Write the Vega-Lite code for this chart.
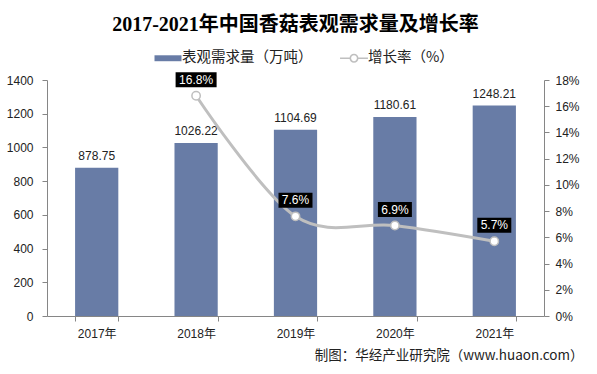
{
  "$schema": "https://vega.github.io/schema/vega-lite/v6.json",
  "width": 497,
  "height": 236,
  "autosize": {"type": "none"},
  "padding": {"left": 47, "top": 80, "right": 53, "bottom": 58},
  "background": "white",
  "title": {
    "text": "2017-2021年中国香菇表观需求量及增长率",
    "font": "Liberation Serif, Noto Sans CJK SC",
    "fontSize": 20,
    "fontWeight": "bold",
    "color": "#000000",
    "anchor": "middle",
    "frame": "group",
    "offset": 14
  },
  "data": {
    "values": [
      {"year": "2017年", "demand": 878.75, "growth": null},
      {"year": "2018年", "demand": 1026.22, "growth": 0.168},
      {"year": "2019年", "demand": 1104.69, "growth": 0.076},
      {"year": "2020年", "demand": 1180.61, "growth": 0.069},
      {"year": "2021年", "demand": 1248.21, "growth": 0.057}
    ]
  },
  "layer": [
    {
      "encoding": {
        "x": {
          "field": "year",
          "type": "nominal",
          "sort": null,
          "scale": {"paddingInner": 0.565, "paddingOuter": 0.2825},
          "axis": {
            "title": "制图：华经产业研究院（www.huaon.com）",
            "titleFont": "Noto Sans CJK SC",
            "titleFontSize": 13.5,
            "titleFontWeight": "normal",
            "titleColor": "#222222",
            "titleAlign": "right",
            "titleAnchor": "end",
            "titleX": 536,
            "titleY": 39,
            "titleBaseline": "middle",
            "labelAngle": 0,
            "labelFontSize": 12,
            "labelPadding": 7,
            "tickBand": "extent",
            "tickSize": 5
          }
        },
        "y": {
          "field": "demand",
          "type": "quantitative",
          "scale": {"domain": [0, 1400], "nice": false},
          "axis": {
            "title": null,
            "values": [0, 200, 400, 600, 800, 1000, 1200, 1400],
            "format": "d",
            "grid": false,
            "orient": "left",
            "labelPadding": 9,
            "tickSize": 5,
            "labelFontSize": 12
          }
        }
      },
      "layer": [
        {
          "mark": {"type": "bar"},
          "encoding": {
            "color": {
              "datum": "表观需求量（万吨）",
              "type": "nominal",
              "scale": {
                "domain": ["表观需求量（万吨）", "增长率（%）"],
                "range": ["#687ca6", "#bfbfbf"]
              },
              "legend": {
                "title": null,
                "orient": "none",
                "legendX": 112,
                "legendY": -31,
                "direction": "horizontal",
                "symbolSize": 324,
                "labelFont": "Noto Sans CJK SC",
                "labelFontSize": 14.5,
                "labelColor": "#222222",
                "labelOffset": 5,
                "columnPadding": 27,
                "encode": {
                  "symbols": {
                    "update": {
                      "shape": {"signal": "datum.value === '表观需求量（万吨）' ? 'M-1.5,-0.33H1.5V0.33H-1.5Z' : 'M-1.55,-0.09H-0.45V0.09H-1.55Z M0.45,-0.09H1.55V0.09H0.45Z M-0.5,0A0.5,0.5 0 1,1 0.5,0A0.5,0.5 0 1,1 -0.5,0Z M-0.32,0A0.32,0.32 0 1,0 0.32,0A0.32,0.32 0 1,0 -0.32,0Z'"},
                      "fill": {"signal": "datum.value === '表观需求量（万吨）' ? '#687ca6' : '#bfbfbf'"},
                      "stroke": {"value": "transparent"},
                      "strokeWidth": {"value": 0},
                      "opacity": {"value": 1},
                      "fillOpacity": {"value": 1}
                    }
                  }
                }
              }
            }
          }
        },
        {
          "mark": {"type": "text", "baseline": "alphabetic", "dy": -8, "fontSize": 12, "font": "Liberation Sans", "color": "#222222"},
          "encoding": {
            "text": {"field": "demand", "type": "quantitative", "format": ".2f"}
          }
        }
      ]
    },
    {
      "transform": [{"filter": "datum.growth != null"}],
      "encoding": {
        "x": {"field": "year", "type": "nominal", "sort": null},
        "y": {
          "field": "growth",
          "type": "quantitative",
          "scale": {"domain": [0, 0.18], "nice": false},
          "axis": {
            "title": null,
            "orient": "right",
            "values": [0, 0.02, 0.04, 0.06, 0.08, 0.1, 0.12, 0.14, 0.16, 0.18],
            "format": ".0%",
            "grid": false,
            "labelPadding": 6,
            "tickSize": 5,
            "labelFontSize": 12
          }
        }
      },
      "layer": [
        {
          "mark": {"type": "line", "interpolate": "cardinal", "strokeWidth": 3},
          "encoding": {
            "color": {"datum": "增长率（%）", "type": "nominal"}
          }
        },
        {
          "mark": {"type": "point", "filled": false, "fill": "#ffffff", "fillOpacity": 1, "stroke": "#bfbfbf", "strokeWidth": 1.5, "size": 70, "opacity": 1}
        },
        {
          "mark": {"type": "point", "filled": true, "color": "#000000", "opacity": 1, "size": 100, "yOffset": -16},
          "encoding": {
            "shape": {
              "condition": {"test": "datum.growth > 0.1", "value": "M-4.1,-1.5H4.1V1.5H-4.1Z"},
              "value": "M-3.4,-1.5H3.4V1.5H-3.4Z"
            }
          }
        },
        {
          "mark": {"type": "text", "baseline": "middle", "yOffset": -16, "fontSize": 12, "font": "Liberation Sans", "color": "#ffffff"},
          "encoding": {
            "text": {"field": "growth", "type": "quantitative", "format": ".1%"}
          }
        }
      ]
    }
  ],
  "resolve": {"scale": {"y": "independent"}},
  "config": {
    "view": {"stroke": null},
    "axis": {
      "domainColor": "#868686",
      "tickColor": "#868686",
      "labelColor": "#222222",
      "labelFont": "Liberation Sans, Noto Sans CJK SC",
      "domainWidth": 1,
      "tickWidth": 1
    }
  }
}
